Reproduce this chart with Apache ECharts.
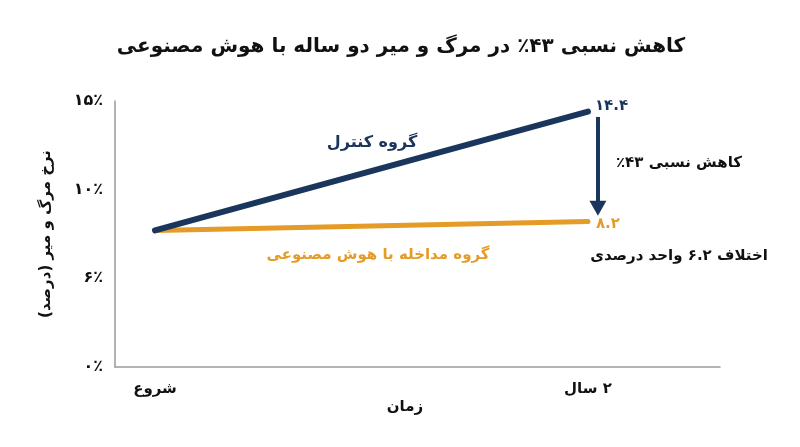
<!DOCTYPE html>
<html>
<head>
<meta charset="utf-8">
<script src="https://cdn.jsdelivr.net/npm/echarts@6/dist/echarts.min.js"></script>
<style>
html,body{margin:0;padding:0;background:#fff;}
#c{width:800px;height:447px;}
</style>
</head>
<body>
<div id="c" dir="rtl"></div>
<script>
// ---- data ----
var timePoints = [0, 2];
var timeLabels = ['شروع', '۲ سال'];
var controlValues = [7.7, 14.4];
var aiValues = [7.7, 8.2];
var yTickValues = [0, 5, 10, 15];
var yTickLabels = ['۰٪', '۶٪', '۱۰٪', '۱۵٪'];
var controlName = 'گروه کنترل';
var aiName = 'گروه مداخله با هوش مصنوعی';
var titleText = 'کاهش نسبی ۴۳٪ در مرگ و میر دو ساله با هوش مصنوعی';
var relText = 'کاهش نسبی ۴۳٪';
var diffText = 'اختلاف ۶.۲ واحد درصدی';
var xName = 'زمان';
var yName = 'نرخ مرگ و میر (درصد)';

var NAVY = '#1b365d';
var ORANGE = '#e49b27';
var FONT = '"DejaVu Sans", "Noto Sans", sans-serif';

function toFa(s){
  return String(s).replace(/[0-9]/g, function(d){ return '۰۱۲۳۴۵۶۷۸۹'[+d]; });
}

var chart = echarts.init(document.getElementById('c'), null, {renderer:'canvas'});

function pairs(vals){ return timePoints.map(function(t,i){ return [t, vals[i]]; }); }

var lastIdx = timePoints.length - 1;
var xEnd = timePoints[lastIdx];

var option = {
  animation: false,
  backgroundColor: '#fff',
  textStyle: {fontFamily: FONT},
  grid: {left: 115, right: 80, top: 101, bottom: 80, containLabel: false},
  xAxis: {
    type: 'value', min: -0.185, max: 2.61,
    axisLine: {show: true, onZero: false, lineStyle: {color: '#9a9a9a', width: 1.5}},
    axisTick: {show: false},
    splitLine: {show: false},
    axisLabel: {
      customValues: timePoints,
      formatter: function(v){ var i = timePoints.indexOf(v); return i >= 0 ? timeLabels[i] : ''; },
      color: '#111', fontWeight: 'bold', fontSize: 15, fontFamily: FONT, margin: 15
    }
  },
  yAxis: {
    type: 'value', min: 0, max: 15, interval: 5,
    axisLine: {show: true, onZero: false, lineStyle: {color: '#9a9a9a', width: 1.5}},
    axisTick: {show: false},
    splitLine: {show: false},
    axisLabel: {
      formatter: function(v){ var i = yTickValues.indexOf(v); return i >= 0 ? yTickLabels[i] : ''; },
      color: '#111', fontWeight: 'bold', fontSize: 16, fontFamily: FONT, margin: 12
    },
    name: yName, nameLocation: 'middle', nameGap: 61,
    nameTextStyle: {color: '#111', fontWeight: 'bold', fontSize: 15, fontFamily: FONT}
  },
  series: [
    {
      type: 'line', name: controlName, data: pairs(controlValues),
      symbol: 'none', silent: true,
      lineStyle: {color: NAVY, width: 6, cap: 'round'},
      label: {show: false},
      endLabel: {show: true, formatter: function(p){ return toFa(p.value[1].toFixed(1)); },
        color: NAVY, fontWeight: 'bold', fontSize: 15, fontFamily: FONT, distance: 7, offset: [0, -6]},
      markLine: {
        silent: true, animation: false,
        symbol: ['none', 'triangle'], symbolSize: [17, 15],
        lineStyle: {color: NAVY, width: 4, type: 'solid'},
        label: {show: false},
        data: [[
          {coord: [xEnd + 0.046, controlValues[lastIdx] - 0.3]},
          {coord: [xEnd + 0.046, aiValues[lastIdx] + 0.75]}
        ]]
      },
      z: 3
    },
    {
      type: 'line', name: aiName, data: pairs(aiValues),
      symbol: 'none', silent: true,
      lineStyle: {color: ORANGE, width: 5, cap: 'round'},
      endLabel: {show: true, formatter: function(p){ return toFa(p.value[1].toFixed(1)); },
        color: ORANGE, fontWeight: 'bold', fontSize: 15, fontFamily: FONT, distance: 8, offset: [0, 3]},
      z: 2
    }
  ],
  graphic: [
    {type: 'text', x: 401, y: 47, style: {text: titleText, fill: '#111', font: 'bold 20px ' + FONT, textAlign: 'center', textVerticalAlign: 'middle'}},
    {type: 'text', x: 372, y: 143, style: {text: controlName, fill: NAVY, font: 'bold 16px ' + FONT, textAlign: 'center', textVerticalAlign: 'middle'}},
    {type: 'text', x: 378, y: 255, style: {text: aiName, fill: ORANGE, font: 'bold 15px ' + FONT, textAlign: 'center', textVerticalAlign: 'middle'}},
    {type: 'text', x: 679, y: 163, style: {text: relText, fill: '#111', font: 'bold 15px ' + FONT, textAlign: 'center', textVerticalAlign: 'middle'}},
    {type: 'text', x: 679, y: 256, style: {text: diffText, fill: '#111', font: 'bold 15px ' + FONT, textAlign: 'center', textVerticalAlign: 'middle'}},
    {type: 'text', x: 405, y: 407, style: {text: xName, fill: '#111', font: 'bold 15px ' + FONT, textAlign: 'center', textVerticalAlign: 'middle'}}
  ]
};
chart.setOption(option);
</script>
</body>
</html>
